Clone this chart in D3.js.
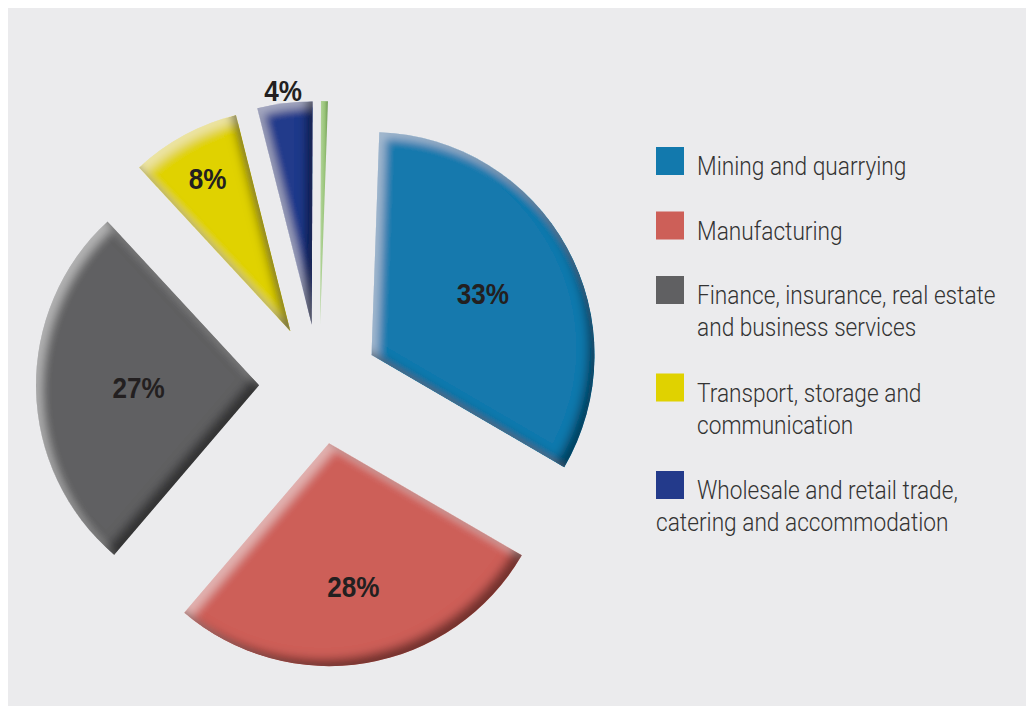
<!DOCTYPE html>
<html>
<head>
<meta charset="utf-8">
<script src="https://cdn.jsdelivr.net/npm/d3@7"></script>
<style>
  body { margin: 0; background: #ffffff; }
  svg { display: block; }
</style>
</head>
<body>
<svg id="chart" width="1026" height="706"></svg>
<script>
// Sectors, their shares (%) and the printed slice labels
const sectors = [
  "Mining and quarrying",
  "Manufacturing",
  "Finance, insurance, real estate and business services",
  "Transport, storage and communication",
  "Wholesale and retail trade, catering and accommodation",
  "Other"
];
const shares = [33, 28, 27, 8, 4, 0.5];
const shareLabels = ["33%", "28%", "27%", "8%", "4%", ""];
const legendLines = [
  ["Mining and quarrying"],
  ["Manufacturing"],
  ["Finance, insurance, real estate", "and business services"],
  ["Transport, storage and", "communication"],
  ["Wholesale and retail trade,", "catering and accommodation"]
];
const sectorColors = ["#1279ad", "#cd5f58", "#606062", "#e0d200", "#233a8b", "#9cc67c"];

// ---- layout ----
const W = 1026, H = 706;
const cx = 319, cy = 384;           // pie centre
const radius = 223;
const explode = 60;                 // every slice pulled out along its bisector
const rotation = 2 * Math.PI / 180;
const labelFactor = [0.57, 0.65, 0.54, 0.78, 1.06, 0];
const bevelMinAngle = 0.05;         // slivers thinner than this are drawn flat

const svg = d3.select("#chart");

// panel background
svg.append("rect")
  .attr("x", 8).attr("y", 8)
  .attr("width", W - 8).attr("height", H - 8)
  .attr("fill", "#ebebed");

// bevel: light inner edge from the top-left, dark inner edge at the bottom-right
const defs = svg.append("defs");
const f = defs.append("filter").attr("id", "bevel")
  .attr("x", "-10%").attr("y", "-10%").attr("width", "120%").attr("height", "120%");
f.append("feGaussianBlur").attr("in", "SourceAlpha").attr("stdDeviation", 5).attr("result", "blur");
f.append("feOffset").attr("in", "blur").attr("dx", 6).attr("dy", 6).attr("result", "blurDown");
f.append("feComposite").attr("in", "SourceAlpha").attr("in2", "blurDown")
  .attr("operator", "arithmetic").attr("k2", 1).attr("k3", -1).attr("result", "hiMask");
f.append("feFlood").attr("flood-color", "#ffffff").attr("flood-opacity", 0.38).attr("result", "hiCol");
f.append("feComposite").attr("in", "hiCol").attr("in2", "hiMask").attr("operator", "in").attr("result", "hi");
f.append("feOffset").attr("in", "blur").attr("dx", -7).attr("dy", -7).attr("result", "blurUp");
f.append("feComposite").attr("in", "SourceAlpha").attr("in2", "blurUp")
  .attr("operator", "arithmetic").attr("k2", 1).attr("k3", -1).attr("result", "shMask");
f.append("feFlood").attr("flood-color", "#000000").attr("flood-opacity", 0.72).attr("result", "shCol");
f.append("feComposite").attr("in", "shCol").attr("in2", "shMask").attr("operator", "in").attr("result", "sh");
const merge = f.append("feMerge");
merge.append("feMergeNode").attr("in", "SourceGraphic");
merge.append("feMergeNode").attr("in", "hi");
merge.append("feMergeNode").attr("in", "sh");

// soft side-lit gradient for the thin sliver
const grad = defs.append("linearGradient").attr("id", "sliver")
  .attr("x1", "0").attr("y1", "0").attr("x2", "1").attr("y2", "0");
grad.append("stop").attr("offset", "0%").attr("stop-color", "#b4d69c");
grad.append("stop").attr("offset", "60%").attr("stop-color", "#97c277");
grad.append("stop").attr("offset", "100%").attr("stop-color", "#6f9a56");

// ---- pie ----
const pie = d3.pie().sort(null).value(d => d)
  .startAngle(rotation).endAngle(rotation + 2 * Math.PI)(shares);
const arc = d3.arc().innerRadius(0).outerRadius(radius);
const mid = d => (d.startAngle + d.endAngle) / 2;

const g = svg.append("g").attr("transform", `translate(${cx},${cy})`);

const slices = g.selectAll("g.slice")
  .data(pie)
  .join("g")
  .attr("class", "slice")
  .attr("transform", d => `translate(${Math.sin(mid(d)) * explode},${-Math.cos(mid(d)) * explode})`);

slices.append("path")
  .attr("d", arc)
  .attr("fill", (d, i) => (d.endAngle - d.startAngle) < bevelMinAngle ? "url(#sliver)" : sectorColors[i])
  .attr("filter", d => (d.endAngle - d.startAngle) < bevelMinAngle ? null : "url(#bevel)");

slices.append("text")
  .text((d, i) => shareLabels[i])
  .attr("transform", (d, i) => {
    const x = Math.sin(mid(d)) * radius * labelFactor[i];
    const y = -Math.cos(mid(d)) * radius * labelFactor[i];
    return `translate(${x},${y}) scale(0.87,1)`;
  })
  .attr("dy", "0.36em")
  .attr("text-anchor", "middle")
  .attr("font-family", "'Liberation Sans', Arial, sans-serif")
  .attr("font-weight", "bold")
  .attr("font-size", 30)
  .attr("fill", "#231f20");

// ---- legend ----
const legend = svg.append("g");
const lx = 656, sw = 28, textX = 697, lineH = 32;
let entryTop = 147;
legendLines.forEach((lines, i) => {
  legend.append("rect")
    .attr("x", lx).attr("y", entryTop)
    .attr("width", sw).attr("height", sw)
    .attr("fill", sectorColors[i]);
  lines.forEach((ln, j) => {
    const hang = (i === legendLines.length - 1 && j > 0);
    legend.append("text")
      .attr("transform", `translate(${hang ? lx : textX},${entryTop + sw + j * lineH}) scale(0.873,1)`)
      .attr("font-family", "Roboto, 'Liberation Sans', sans-serif")
      .attr("font-weight", 300)
      .attr("font-size", 26)
      .attr("fill", "#333333")
      .text(ln);
  });
  entryTop += 64.5 + 33 * (lines.length - 1);
});
</script>
</body>
</html>
